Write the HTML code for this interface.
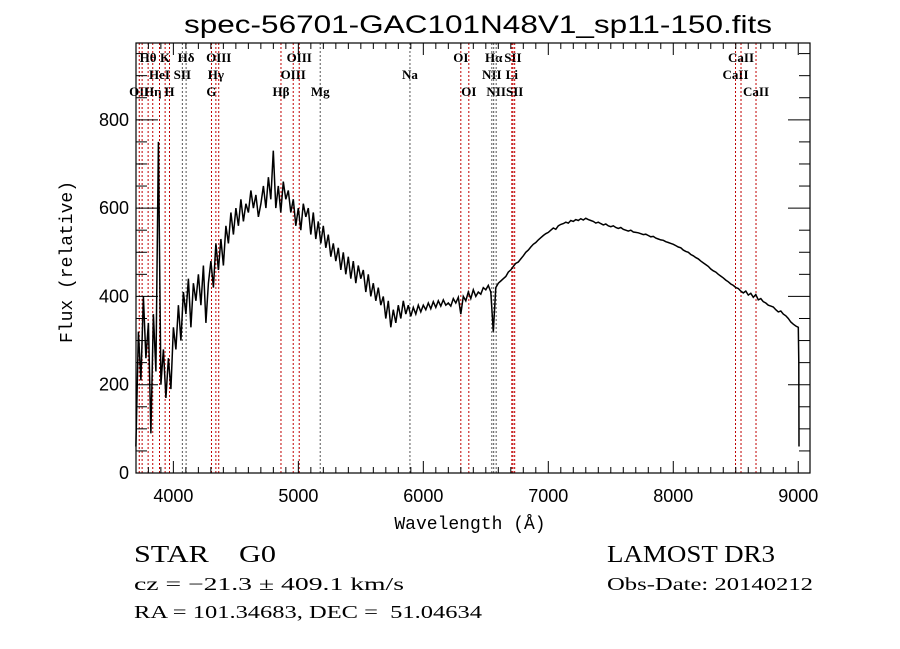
<!DOCTYPE html>
<html><head><meta charset="utf-8"><style>
html,body{margin:0;padding:0;background:#fff;}
svg{display:block;}
text{white-space:pre;}
</style></head><body>
<svg id="chart" width="900" height="649" viewBox="0 0 900 649" xmlns="http://www.w3.org/2000/svg" xml:space="preserve">
<rect x="0" y="0" width="900" height="649" fill="#fff"/>
<text x="184" y="33" font-family="Liberation Sans, sans-serif" font-size="25" textLength="588" lengthAdjust="spacingAndGlyphs">spec-56701-GAC101N48V1_sp11-150.fits</text>
<g id="lines"></g>
<g id="spec"></g>
<g id="axes"></g>
<text x="470" y="529" font-family="Liberation Mono, monospace" font-size="18" text-anchor="middle">Wavelength (Å)</text>
<text transform="translate(72,262) rotate(-90)" font-family="Liberation Mono, monospace" font-size="18" text-anchor="middle">Flux (relative)</text>
<text x="134" y="562" font-family="Liberation Serif, serif" font-size="24" textLength="142" lengthAdjust="spacingAndGlyphs">STAR    G0</text>
<text x="134" y="590" font-family="Liberation Serif, serif" font-size="18" textLength="270" lengthAdjust="spacingAndGlyphs">cz = −21.3 ± 409.1 km/s</text>
<text x="134" y="618" font-family="Liberation Serif, serif" font-size="18" textLength="348" lengthAdjust="spacingAndGlyphs">RA = 101.34683, DEC =  51.04634</text>
<text x="607" y="562" font-family="Liberation Serif, serif" font-size="24" textLength="168" lengthAdjust="spacingAndGlyphs">LAMOST DR3</text>
<text x="607" y="590" font-family="Liberation Serif, serif" font-size="18" textLength="206" lengthAdjust="spacingAndGlyphs">Obs-Date: 20140212</text>
</svg>
<script>
const NS='http://www.w3.org/2000/svg';
// ---- data ----
const waveStart = 3700;
const waveStep = 20;
const fluxValues = [
60,320,210,400,260,340,90,360,230,750,
200,280,170,260,190,330,280,380,300,410,
360,440,330,430,390,450,380,470,340,430,
480,420,520,460,530,470,560,520,590,540,
600,560,620,570,610,590,640,600,630,580,
610,650,600,670,620,730,600,650,590,660,
620,640,590,620,560,600,550,610,580,600,
540,590,530,570,520,560,510,540,490,520,
480,510,460,500,450,490,440,480,430,470,
440,460,410,450,400,430,390,420,380,400,
350,390,330,370,340,380,350,390,360,380,
355,375,360,380,365,380,370,385,372,388,
375,390,378,392,380,385,378,395,385,398,
360,400,390,410,395,415,400,410,405,420,
415,425,410,320,420,430,435,440,445,455,
460,468,475,478,485,492,500,505,512,518,
522,528,533,538,542,545,550,555,552,560,
563,565,568,566,572,570,574,572,576,573,
577,574,572,570,566,568,565,562,564,560,
558,560,556,554,556,552,550,548,550,546,
545,544,542,540,541,538,535,536,532,530,
528,527,524,522,520,518,515,512,510,505,
502,500,495,492,488,485,480,476,472,468,
462,458,455,450,446,442,437,433,428,425,
420,418,412,408,412,403,407,398,404,392,
395,388,385,380,378,376,370,365,367,360,
356,350,342,337,333,330
];
const tailWaves = [9004, 9006];
const tailFlux = [250, 60];
const lineWaves = [3727,3750,3798,3835,3889,3934,3969,4072,4102,4305,4340,4363,4861,4959,5007,5175,5893,6300,6364,6548,6563,6583,6708,6717,6731,8498,8542,8662];
const lineNames = ['OII','','Hθ','Hη','HeI','K','H','SII','Hδ','G','Hγ','OIII','Hβ','OIII','OIII','Mg','Na','OI','OI','NII','Hα','NII','Li','SII','SII','CaII','CaII','CaII'];
const lineRows = [2,-1,0,2,1,0,2,1,0,2,1,0,2,1,0,2,1,0,2,1,0,2,1,0,2,1,0,2];
const lineDark = [0,0,0,0,0,0,0,1,1,0,0,0,0,0,0,1,1,0,0,1,1,1,0,0,0,0,0,0];
const xTicks = [4000,5000,6000,7000,8000,9000];
const yTicks = [0,200,400,600,800];
// ---- scales ----
const L=136,R=810,T=43,B=473;
const xMin=3701, xMax=9094, yMin=0, yMax=974;
const X=w=>L+(w-xMin)/(xMax-xMin)*(R-L);
const Y=f=>B-(f-yMin)/(yMax-yMin)*(B-T);
function mk(tag,attrs,parent){const e=document.createElementNS(NS,tag);for(const k in attrs)e.setAttribute(k,attrs[k]);parent.appendChild(e);return e;}
// lines
const lg=document.getElementById('lines');
lineWaves.forEach((w,i)=>{
  const x=X(w);
  const l=mk('line',{x1:x,x2:x,y1:T,y2:B,stroke:lineDark[i]?'#555':'#c00000','stroke-width':1,'stroke-dasharray':'2,2'},lg);
  
  
  if(lineNames[i] && lineRows[i]>=0){
    const t=mk('text',{x:x,y:62+lineRows[i]*17,'text-anchor':'middle','font-family':'Liberation Serif, serif','font-size':13,'font-weight':'bold'},lg);
    t.textContent=lineNames[i];
    
    
  }
});
// spectrum
const sg=document.getElementById('spec');
let d='';
fluxValues.forEach((f,i)=>{const w=waveStart+i*waveStep;d+=(i?'L':'M')+X(w).toFixed(1)+','+Y(f).toFixed(1);});
tailWaves.forEach((w,i)=>{d+='L'+X(w).toFixed(1)+','+Y(tailFlux[i]).toFixed(1);});
const p=mk('path',{d:d,fill:'none',stroke:'#000','stroke-width':1.5,'stroke-linejoin':'miter'},sg);


// axes
const ag=document.getElementById('axes');
const fr=mk('rect',{x:L,y:T,width:R-L,height:B-T,fill:'none',stroke:'#000','stroke-width':1.2},ag);


for(let w=3800;w<=9000;w+=100){
  const x=X(w);const maj=w%1000===0;const len=maj?12:6;
  mk('line',{x1:x,x2:x,y1:B,y2:B-len,stroke:'#000'},ag);
  mk('line',{x1:x,x2:x,y1:T,y2:T+len,stroke:'#000'},ag);
}
xTicks.forEach(w=>{
  const t=mk('text',{x:X(w),y:502,'text-anchor':'middle','font-family':'Liberation Sans, sans-serif','font-size':18},ag);
  t.textContent=w;
  
  
});
for(let f=0;f<=950;f+=50){
  const y=Y(f);const maj=f%200===0;const len=maj?22:11;
  mk('line',{x1:L,x2:L+len,y1:y,y2:y,stroke:'#000'},ag);
  mk('line',{x1:R,x2:R-len,y1:y,y2:y,stroke:'#000'},ag);
}
yTicks.forEach(f=>{
  const t=mk('text',{x:129,y:Y(f)+6,'text-anchor':'end','font-family':'Liberation Sans, sans-serif','font-size':18},ag);
  t.textContent=f;
  
  
});
</script>
</body></html>
